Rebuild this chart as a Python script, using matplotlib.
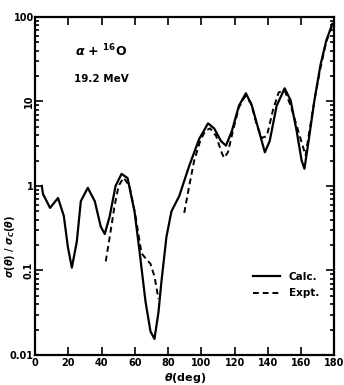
import numpy as np
import matplotlib
matplotlib.use("Agg")
from matplotlib import pyplot as plt
from matplotlib.ticker import LogLocator, NullFormatter, FixedLocator

# calculated cross section ratio (solid)
CALC_THETA = [4, 4.8, 9.0, 13.8, 17.3, 19.7, 22.1, 25.1, 27.5, 31.7, 35.9, 39.5,
              41.9, 44.9, 48.4, 52.0, 55.6, 59.8, 62.8, 66.4, 69.4, 71.8, 74.2,
              76.0, 79.0, 82.0, 86.7, 92.7, 98.7, 104.0, 107.7, 111.8, 114.8,
              118.4, 122.6, 126.8, 130.4, 134.6, 138.2, 141.1, 145.3, 150.1,
              153.7, 157.3, 160.3, 162.0, 164.5, 168.0, 171.6, 175.2, 178.8]
CALC_RATIO = [1.0, 0.80, 0.55, 0.72, 0.44, 0.19, 0.108, 0.22, 0.66, 0.95, 0.66,
              0.33, 0.27, 0.44, 1.0, 1.39, 1.24, 0.50, 0.17, 0.043, 0.019,
              0.0155, 0.032, 0.074, 0.25, 0.50, 0.76, 1.73, 3.6, 5.5, 4.8, 3.4,
              3.0, 4.5, 8.9, 12.5, 8.9, 4.5, 2.5, 3.4, 8.9, 14.3, 10.3, 4.5,
              2.0, 1.6, 3.4, 10.3, 26.8, 53.0, 83.0]

# measured cross section ratio (dashed), two angular ranges
EXPT_THETA_A = [42.5, 44.9, 47.8, 50.2, 53.2, 56.8, 60.4, 64.0, 67.0, 69.4,
                71.8, 74.2]
EXPT_RATIO_A = [0.128, 0.25, 0.58, 1.0, 1.25, 1.0, 0.44, 0.16, 0.135, 0.12,
                0.085, 0.046]
EXPT_THETA_B = [89.7, 92.7, 95.7, 99.3, 102.3, 105.3, 108.9, 111.8, 113.6,
                116.0, 119.0, 122.6, 126.2, 129.8, 133.4, 136.4, 139.4, 143.0,
                146.5, 150.1, 153.7, 157.3, 160.9, 162.7, 164.5, 168.0, 171.6,
                175.0, 178.8]
EXPT_RATIO_B = [0.48, 1.0, 2.0, 3.4, 4.5, 4.8, 3.9, 2.6, 2.15, 2.5, 4.5, 8.5,
                11.5, 9.7, 5.2, 3.7, 3.9, 7.8, 12.8, 13.5, 8.9, 5.2, 3.0, 2.3,
                3.9, 10.3, 24.7, 50.0, 80.0]

XTICKS = [0, 20, 40, 60, 80, 100, 120, 140, 160, 180]
YTICKS = [0.01, 0.1, 1, 10, 100]
YTICK_LABELS = ["0.01", "0.1", "1", "10", "100"]

plt.rcParams["font.family"] = "DejaVu Sans"
plt.rcParams["font.weight"] = "bold"

fig = plt.figure(figsize=(3.44, 3.85), dpi=100)
ax = fig.add_axes([0.102, 0.078, 0.87, 0.878])

ax.plot(CALC_THETA, CALC_RATIO, color="black", lw=1.6, label="Calc.")
ax.plot(EXPT_THETA_A, EXPT_RATIO_A, color="black", lw=1.4, ls=(0, (3, 2)),
        label="Expt.")
ax.plot(EXPT_THETA_B, EXPT_RATIO_B, color="black", lw=1.4, ls=(0, (3, 2)))

ax.set_yscale("log")
ax.set_xlim(0, 180)
ax.set_ylim(0.01, 100)
ax.xaxis.set_major_locator(FixedLocator(XTICKS))
ax.set_yticks(YTICKS)
ax.set_yticklabels(YTICK_LABELS)
ax.yaxis.set_minor_locator(LogLocator(base=10, subs=np.arange(2, 10)))
ax.yaxis.set_minor_formatter(NullFormatter())
ax.tick_params(which="both", direction="in", top=True, right=True,
               labelsize=7, width=1.2)
ax.tick_params(which="major", length=6)
ax.tick_params(which="minor", length=3)
ax.tick_params(axis="x", pad=2)
ax.tick_params(axis="y", pad=1)
# the 10 and 0.1 labels are printed sideways
for tick, text in zip(ax.yaxis.get_major_ticks(), YTICK_LABELS):
    if text in ("10", "0.1"):
        tick.label1.set_rotation(90)
        tick.label1.set_rotation_mode("anchor")
        tick.label1.set_ha("center")
        tick.label1.set_va("bottom")
for side in ax.spines.values():
    side.set_linewidth(1.6)

ax.set_xlabel(r"$\theta$(deg)", fontsize=8, fontweight="bold", labelpad=2)
ax.set_ylabel(r"$\sigma$($\theta$) / $\sigma_C$($\theta$)", fontsize=7,
              fontweight="bold")
ax.yaxis.set_label_coords(-0.06, 0.32)

ax.text(40, 40, r"$\alpha$ + $^{16}$O", fontsize=9, fontweight="bold",
        ha="center", va="center")
ax.text(40, 18.5, "19.2 MeV", fontsize=7.5, fontweight="bold",
        ha="center", va="center")

ax.legend(loc="lower right", bbox_to_anchor=(0.98, 0.14), frameon=False,
          handlelength=2.6, handletextpad=0.8, labelspacing=0.6,
          prop={"weight": "bold", "size": 7.5})

fig.savefig("out.png", dpi=100)
